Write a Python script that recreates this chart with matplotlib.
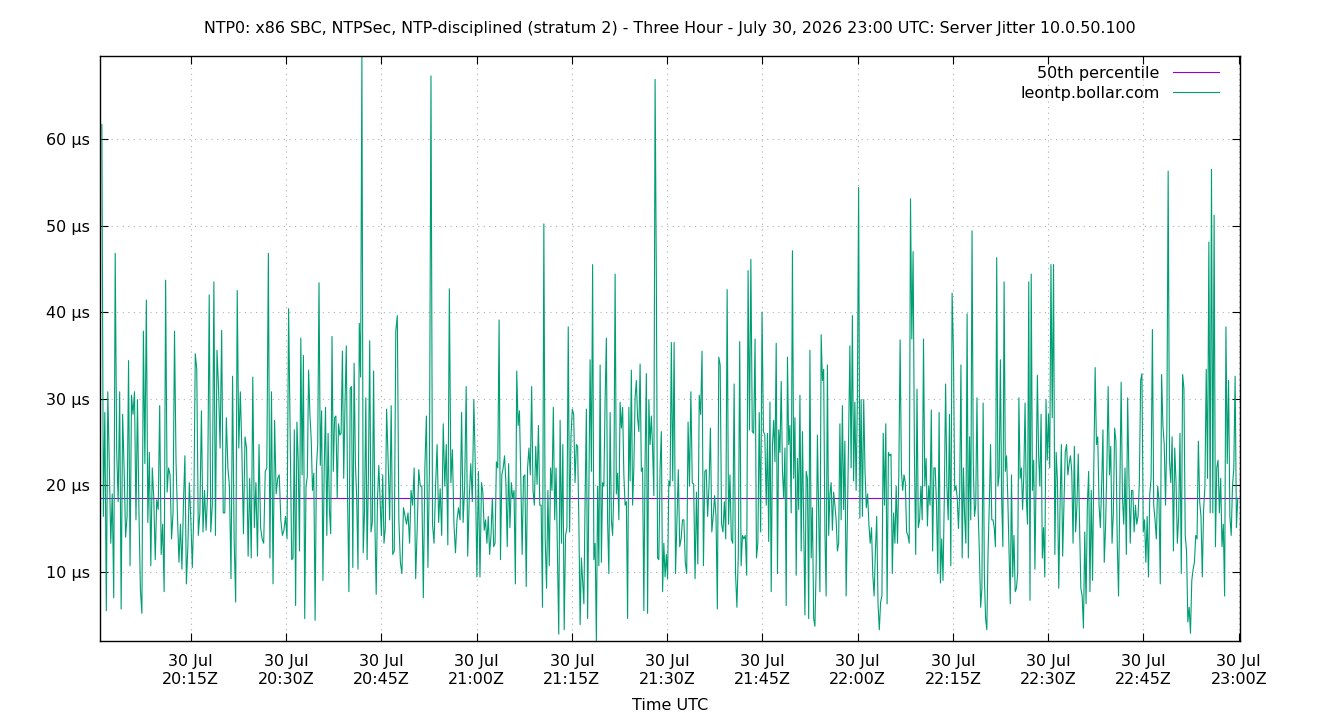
import numpy as np
import pandas as pd
import matplotlib
matplotlib.use('Agg')
import matplotlib.dates as mdates
from matplotlib import pyplot as plt

plt.rcParams['font.family'] = 'DejaVu Sans'

title = ('NTP0: x86 SBC, NTPSec, NTP-disciplined (stratum 2) - Three Hour - '
         'July 30, 2026 23:00 UTC: Server Jitter 10.0.50.100')
day = '2026-07-30 20:00:00'
p50 = 18.5

# minutes after 20:00 where each stretch of readings begins / ends
seg_edges = [1.0, 15.94, 30.89, 45.83, 60.77, 75.71, 90.66, 105.60, 120.54,
             135.48, 150.43, 165.37, 179.84]

# jitter in microseconds left to right
seg1 = [61.7, 16.4, 28.4, 5.5, 30.8, 22.5, 13.3, 19, 7, 46.8, 23.8, 18.1, 30.8, 5.7,
        28.2, 22, 14, 16.4, 34.4, 10.7, 30.4, 28.2, 30.8, 16, 29.9, 17, 7.9, 5.2,
        37.8, 22.5, 41.4, 15.7, 23.8, 10.7, 22, 18.5, 11.4, 18.3, 17.2, 29.2, 12,
        15.5, 7.7, 43.7, 19.2, 22, 21.2, 13.8, 16.8, 37.8, 22.9, 16.4, 11.1, 15.5,
        10.3, 17.7, 23.4, 8.6, 12.9, 20.3, 16, 10.5, 16.8, 35.2, 33.4]
seg2 = [14.2, 16.8, 28.6, 14.6, 19.4, 14.8, 19.4, 42, 14.6, 17.7, 43.5, 14.2, 35.6,
        31.2, 24.3, 37.9, 16.8, 16.8, 27.8, 22, 19.9, 9.2, 32.6, 13.8, 6.5, 42.5,
        24.3, 30.8, 23.8, 14.4, 25.6, 24.3, 11.8, 20.8, 11.6, 32.5, 15.1, 20.3, 11.8,
        24.7, 15.1, 13.8, 13.3, 21.6, 22, 46.8, 11.6, 30.8, 8.6, 27.5, 19, 20.8,
        21.2, 16, 14.2, 14.8, 16.4, 13.8, 40.4, 25.6, 11.4]
seg3 = [11.6, 26.4, 6.1, 27.3, 22.9, 12.4, 37, 21.2, 35, 4.6, 19.9, 21, 33.3, 28.2,
        25.3, 19.4, 21.4, 4.4, 22, 24.7, 43.4, 22.3, 28.6, 9, 22, 29, 14.2, 26, 17.2,
        14.4, 37.2, 21.6, 27.8, 28, 18.5, 27.1, 25.8, 26, 35.5, 20.8, 29.5, 36.1,
        18.3, 7.7, 31.2, 31.4, 10.5, 34.1, 22.5, 18.5, 10.3, 38.7, 32.5, 69.6, 12.2,
        16.8, 30.1, 11.4, 21.2, 36.7, 14.6, 15.7, 33.2, 15.5, 7.4, 18.5, 22.3, 18.1,
        14.2, 21.2, 13.3, 15.1, 28.8]
seg4 = [22.9, 16, 29.2, 12, 12.4, 37.8, 39.6, 16, 11.1, 9.8, 17.4, 16.5, 15.5, 16.8,
        13.3, 19.4, 17.7, 22, 9.2, 15.1, 21.8, 19.9, 19.9, 7, 22, 28, 10.5, 22, 67.3,
        15.5, 13.3, 19.9, 24.7, 15.7, 19.6, 14.2, 27.1, 19.9, 24.7, 13.1, 42.7, 20.3,
        24.1, 15.5, 12.2, 16, 17.4, 16, 28.4, 15.7, 19.9, 31.4, 11.8, 18.5, 22.5,
        18.1, 29.9, 21.8, 9.4, 21.6, 9.4, 20.3]
seg5 = [19.2, 14.8, 16, 13.3, 16.4, 12, 14.2, 18.5, 12.9, 13.3, 22.7, 22, 39.1, 11.4,
        21.2, 22, 23.4, 20.3, 12.9, 22.5, 15.1, 20.3, 18.5, 19.4, 8.6, 33.2, 26.9,
        28.6, 20.8, 12, 21, 21.2, 8.3, 22, 24.3, 21.2, 31.4, 19.4, 17.7, 24.5, 20.1,
        26.9, 17.7, 17.7, 5.9, 50.2, 13.8, 8.1, 19.4, 10.7, 22, 19.4, 29, 16, 22, 12,
        2.8, 27.5, 13.3, 24.7, 3.3, 14.2, 15.1, 38.3, 14.6, 25.6, 28.8, 28.2, 20.3,
        24.7]
seg6 = [24.5, 15.5, 3.9, 11.6, 9, 6.3, 18.5, 28.8, 4.6, 19, 34.5, 21.6, 45.5, 11.4,
        13.3, 2.0, 19.9, 10.7, 33.9, 11.1, 20.3, 19.9, 29.9, 37, 15.7, 9.8, 28.4, 16,
        14.2, 19.6, 44.4, 19, 21.4, 16, 29.6, 26.6, 29, 21.2, 17.7, 18.1, 4.6, 29,
        20.5, 33.3, 17.7, 22, 30.1, 32.1, 27.8, 26.2, 34, 21.6, 22, 5.5, 22.9, 32.9,
        5.2, 29.9, 24.7, 28, 24.3, 18.8, 66.9, 44, 11.6, 11.4, 22, 26.2, 7.7, 13.3,
        9.4, 12, 9.2, 20.5, 19.9, 36.5]
seg7 = [20.5, 36.5, 9.8, 16, 21.8, 12.9, 13.8, 16, 16, 11.1, 9.8, 27.3, 19.9, 30.8,
        20.3, 20.1, 9.2, 19.2, 10.9, 30.4, 28.2, 35.5, 10.7, 21.6, 21.8, 16.4, 19.9,
        26.6, 14.6, 16.4, 18.8, 16.4, 5.7, 34.8, 33.9, 15.5, 14.6, 18.1, 13.8, 42.6,
        15.5, 21.2, 13.8, 13.3, 31.7, 9.8, 5.9, 12, 36.6, 10.7, 14.2, 13.8, 14.2, 9.6,
        44.8, 26.4, 46.1, 26.2, 26, 36.9, 11.6, 13.3, 28.4, 14.6, 40, 26.2, 25.8, 17.7]
seg8 = [26, 13.5, 29.6, 7.7, 24.7, 27.5, 22.7, 36.4, 9.8, 26.4, 23.8, 32, 21.6, 18.5,
        24.3, 6.1, 34.8, 24.7, 26.9, 16.8, 47.1, 20.8, 27.8, 9.6, 23.1, 17.2, 30.4,
        12.4, 26.2, 16, 5, 21.6, 20.8, 4.6, 35.6, 11.6, 17.4, 4.6, 3.7, 10.7, 25.8,
        16.8, 7.7, 37.4, 32.1, 33.4, 14.6, 7.2, 33.9, 14.2, 19, 20.3, 14.8, 19.2, 17.7,
        16, 12.4, 13.3, 27.1, 16, 29.2, 17.2, 25.1, 7.2, 16, 25.6, 36.1, 22, 39.6,
        20.5, 29.6, 19.4, 29.9, 54.4, 16.2, 29.9]
seg9 = [16.4, 29.9, 21.6, 17.4, 19, 15.5, 13.3, 15.1, 9.6, 7.2, 12.4, 16.4, 6.3, 3.3,
        6.5, 7.2, 26, 17.7, 27.1, 6.3, 23.8, 23.4, 23.6, 9.8, 16.8, 13.3, 19.9, 13.3,
        21.2, 36.8, 21.6, 19.4, 21.2, 20.3, 14.6, 14.2, 13.3, 53.1, 36.9, 47, 23.8, 12,
        31.1, 15.1, 16, 19.9, 16, 36.9, 19.9, 23.1, 15.3, 19.9, 17.7, 28.7, 12.4, 22,
        22, 17.7, 9.8, 28.4, 8.7, 13.8, 9, 18.5, 31.7, 19.9, 16, 28.2, 10.7, 42.2,
        35.6, 19.4, 19.9]
seg10 = [18.5, 15, 19.4, 33.9, 11.6, 22, 16.4, 13.3, 39.8, 11.6, 25.6, 16, 49.4, 22.5,
         16.4, 17.7, 30.1, 16.8, 12, 5.9, 8.1, 29.5, 9.4, 4.6, 3.3, 12.4, 17.7, 24.7,
         16, 16, 15.1, 12.9, 46.3, 19.9, 21.2, 34.5, 18.5, 12.9, 43.5, 21.6, 23.4, 18.5,
         12.4, 6.3, 21.2, 9.4, 14.2, 7.7, 8.1, 9.8, 30.1, 20.8, 22, 17.2, 21.2, 29.5,
         18.5, 15.5, 43.5, 6.7, 44.4, 19.4, 22.9, 10.3, 21.2, 32.7, 23.4, 19.9, 28.2,
         11.6, 15.1, 9.4, 29.9, 22.9, 28.2, 22, 45.5]
seg11 = [27.8, 45.5, 12, 23.8, 20.5, 8.1, 17.7, 24.7, 11.8, 17.7, 23.8, 24.7, 21.2,
         22.5, 23.4, 21.6, 13.3, 24.5, 14.6, 17.7, 23.6, 15.5, 8.1, 7.2, 3.5, 14.6, 6.3,
         17.7, 21.6, 7.7, 19.4, 9, 22.5, 33.6, 24.7, 25.6, 17.7, 15.1, 19.9, 26.4, 11.1,
         15.1, 22, 31.4, 21.2, 24.5, 13.3, 16.8, 26.6, 25.1, 13.3, 7.2, 19.9, 31.9,
         18.5, 15.5, 22, 12, 30.1, 20.8, 13.3, 19.4, 19.4, 14.6, 17.7, 15.5, 16.4, 20.3,
         32.1, 32.9, 14.6, 16, 11.1]
seg12 = [16.4, 9.4, 19, 20.8, 38, 17.7, 16, 13.8, 19.9, 18.3, 8.6, 32.8, 26.9, 24.7,
         17.7, 26.4, 56.3, 22.9, 20.3, 25.6, 12.4, 24.3, 20.3, 13.3, 16.4, 26, 9.8,
         32.8, 31.2, 14.2, 12.4, 4.2, 5.9, 2.9, 9, 10.3, 11.1, 14.2, 13.8, 25.1, 18.1,
         16.4, 9.4, 17.2, 19.9, 33.4, 20.8, 48.1, 16.8, 56.5, 16.8, 51.2, 12.9, 22, 22.9,
         16.8, 20.8, 12.9, 15.5, 7.2, 38.3, 22.5, 32.1, 16.4, 14.2, 19.9, 22, 32.6,
         15.1, 18.5]

segments = [seg1, seg2, seg3, seg4, seg5, seg6, seg7, seg8, seg9, seg10, seg11, seg12]

# spread each stretch of readings evenly over its own time span
minutes = []
for k, seg in enumerate(segments):
    if k == 0:
        minutes.append(np.linspace(seg_edges[0], seg_edges[1], len(seg)))
    else:
        minutes.append(np.linspace(seg_edges[k], seg_edges[k + 1], len(seg) + 1)[1:])
minutes = np.concatenate(minutes)
jitter = np.concatenate([np.array(s, dtype=float) for s in segments])
times = pd.Timestamp(day) + pd.to_timedelta(minutes, unit='min')

fig = plt.figure(figsize=(13.4, 7.2), dpi=100)
ax = fig.add_axes([0.0746, 0.1097, 0.8508, 0.8125])

ax.axhline(p50, color='#9400d3', lw=0.8, label='50th percentile')
ax.plot(times, jitter, color='#009e73', lw=0.8, label='leontp.bollar.com')

ax.set_xlim(pd.Timestamp(day) + pd.Timedelta(minutes=0.7),
            pd.Timestamp(day) + pd.Timedelta(minutes=180.2))
ax.set_ylim(jitter.min(), jitter.max())
ax.set_yticks([10, 20, 30, 40, 50, 60])
ax.set_yticklabels(['%d µs' % v for v in [10, 20, 30, 40, 50, 60]])
ax.xaxis.set_major_locator(mdates.MinuteLocator(byminute=[0, 15, 30, 45]))
ax.xaxis.set_major_formatter(mdates.DateFormatter('%d %b\n%H:%MZ'))
ax.tick_params(direction='in', length=6, top=True, right=True, labelsize=11.5)
ax.tick_params(axis='y', pad=7.5)
ax.tick_params(axis='x', pad=9.5)
for lbl in ax.get_xticklabels():
    lbl.set_horizontalalignment('center')
ax.grid(True, color='#b0b0b0', linestyle=(0, (1, 4)), lw=0.8)
for s in ax.spines.values():
    s.set_linewidth(1)

ax.set_xlabel('Time UTC', fontsize=11.5, labelpad=8)
fig.suptitle(title, fontsize=11.4, y=0.971)
ax.legend(loc='upper right', bbox_to_anchor=(1 - 10 / 1140, 1.002), frameon=False,
          markerfirst=False, fontsize=11.5, handlelength=2.9, borderaxespad=0.3,
          labelspacing=0.3)

fig.savefig('out.png', dpi=100)
